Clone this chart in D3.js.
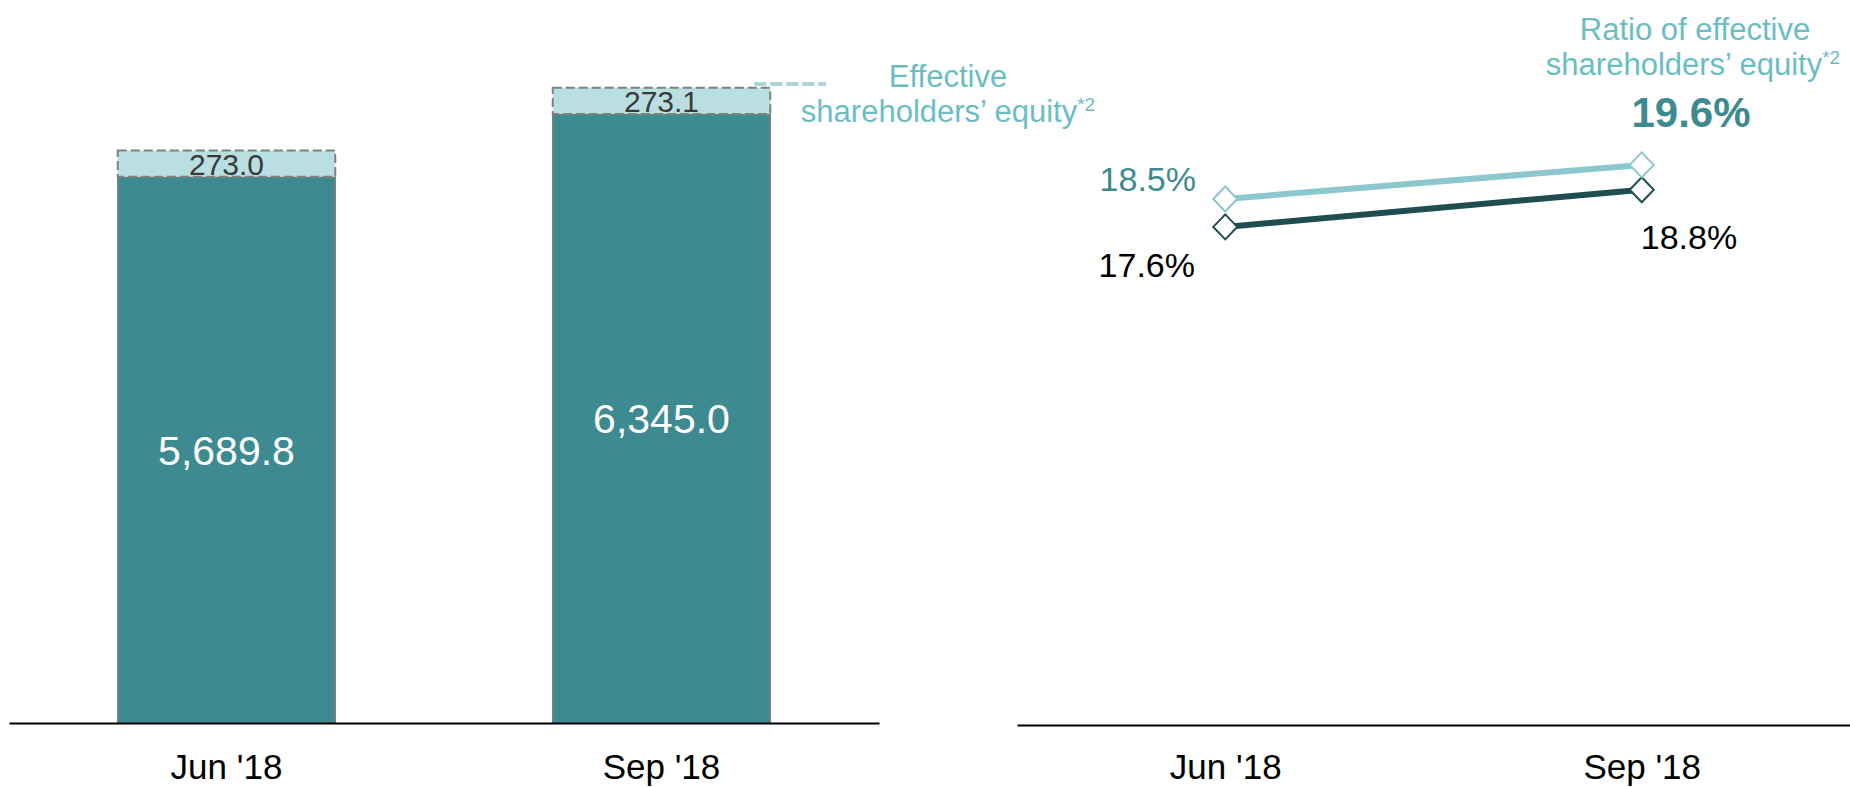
<!DOCTYPE html>
<html>
<head>
<meta charset="utf-8">
<script src="https://cdn.jsdelivr.net/npm/d3@7/dist/d3.min.js"></script>
<style>
  html, body { margin: 0; padding: 0; background: #fff; }
  svg { display: block; font-family: "Liberation Sans", Arial, sans-serif; }
</style>
</head>
<body>
<svg id="chart" width="1850" height="787"></svg>
<script>
// ---- data ----
const categories = ["Jun '18", "Sep '18"];
const shareholdersEquity = [5689.8, 6345.0];
const effectiveAddition = [273.0, 273.1];
const barLabels = ["5,689.8", "6,345.0"];
const addLabels = ["273.0", "273.1"];
const ratioEffective = [18.5, 19.6];
const ratioPlain = [17.6, 18.8];

const svg = d3.select("#chart");

// ---- colours ----
const teal = "#3d8a90";
const lightBand = "#b9dfe2";
const borderGray = "#808080";
const annoColor = "#6bbdc4";
const lightLine = "#8cc7cd";
const darkLine = "#1f4d50";

// ---- left panel: stacked bars ----
const xBar = d3.scaleBand().domain(categories).range([9, 879]).paddingInner(0.5).paddingOuter(0.25);
const yBar = d3.scaleLinear().domain([0, 7000]).range([723, 51]);

const gL = svg.append("g");

categories.forEach((c, i) => {
  const x0 = xBar(c), w = xBar.bandwidth();
  const base = shareholdersEquity[i];
  const top = base + effectiveAddition[i];
  gL.append("rect")
    .attr("x", x0).attr("y", yBar(base))
    .attr("width", w).attr("height", yBar(0) - yBar(base))
    .attr("fill", teal).attr("stroke", borderGray).attr("stroke-width", 1.5);
  gL.append("rect")
    .attr("x", x0).attr("y", yBar(top))
    .attr("width", w).attr("height", yBar(base) - yBar(top))
    .attr("fill", lightBand).attr("stroke", borderGray).attr("stroke-width", 2)
    .attr("stroke-dasharray", "9 4");
  const mid = (yBar(base) + yBar(0)) / 2;
  gL.append("text")
    .attr("x", x0 + w / 2).attr("y", mid + 15)
    .attr("text-anchor", "middle").attr("fill", "#ffffff")
    .attr("font-size", 41).text(barLabels[i]);
  gL.append("text")
    .attr("x", x0 + w / 2).attr("y", yBar(base) - 2)
    .attr("text-anchor", "middle").attr("fill", "#3a3a3a")
    .attr("font-size", 30).text(addLabels[i]);
});

// left axis
const axL = gL.append("g").attr("transform", `translate(0,${yBar(0)})`)
  .call(d3.axisBottom(xBar).tickSize(0).tickPadding(0));
axL.select(".domain").attr("stroke", "#000").attr("stroke-width", 2);
axL.selectAll(".tick text").attr("font-size", 35).attr("fill", "#000")
  .attr("font-family", "Liberation Sans, Arial, sans-serif")
  .attr("dy", 0).attr("y", 56);

// annotation for effective equity
const lastCat = categories[1];
gL.append("line")
  .attr("x1", xBar(lastCat) + xBar.bandwidth() - 16).attr("x2", 826)
  .attr("y1", 84).attr("y2", 84)
  .attr("stroke", "#a9d5da").attr("stroke-width", 4).attr("stroke-dasharray", "12 4");
gL.append("text").attr("text-anchor", "middle").attr("fill", annoColor).attr("font-size", 31)
  .attr("x", 948).attr("y", 87).text("Effective");
const l2 = gL.append("text").attr("text-anchor", "middle").attr("fill", annoColor).attr("font-size", 31)
  .attr("x", 948).attr("y", 122);
l2.append("tspan").text("shareholders’ equity");
l2.append("tspan").attr("font-size", 19).attr("dy", -11).text("*2");

// ---- right panel: ratio lines ----
const xPt = d3.scalePoint().domain(categories).range([1017, 1850]).padding(0.5);
const yR = d3.scaleLinear().domain([1.5, 21.5]).range([726, 106]);

const gR = svg.append("g");
const axR = gR.append("g").attr("transform", "translate(0,725)")
  .call(d3.axisBottom(xPt).tickSize(0).tickPadding(0));
axR.select(".domain").attr("stroke", "#000").attr("stroke-width", 2);
axR.selectAll(".tick text").attr("font-size", 35).attr("fill", "#000")
  .attr("font-family", "Liberation Sans, Arial, sans-serif")
  .attr("dy", 0).attr("y", 54);

const lineGen = d3.line().x((d, i) => xPt(categories[i])).y(d => yR(d));
const dW = 12, dH = 12.5;
const diamondPath = `M0,${-dH}L${dW},0L0,${dH}L${-dW},0Z`;

function drawSeries(values, color) {
  gR.append("path").datum(values).attr("d", lineGen)
    .attr("fill", "none").attr("stroke", color).attr("stroke-width", 6);
  gR.selectAll(null).data(values).enter().append("path")
    .attr("d", diamondPath)
    .attr("transform", (d, i) => `translate(${xPt(categories[i])},${yR(d)})`)
    .attr("fill", "#fff").attr("stroke", color).attr("stroke-width", 2);
}
drawSeries(ratioPlain, darkLine);
drawSeries(ratioEffective, lightLine);

// point labels
gR.append("text").attr("x", 1196).attr("y", yR(ratioEffective[0]) - 8)
  .attr("text-anchor", "end").attr("fill", teal).attr("font-size", 34)
  .text(ratioEffective[0].toFixed(1) + "%");
gR.append("text").attr("x", 1195).attr("y", yR(ratioPlain[0]) + 50)
  .attr("text-anchor", "end").attr("fill", "#000").attr("font-size", 34)
  .text(ratioPlain[0].toFixed(1) + "%");
gR.append("text").attr("x", 1689).attr("y", yR(ratioPlain[1]) + 59)
  .attr("text-anchor", "middle").attr("fill", "#000").attr("font-size", 34)
  .text(ratioPlain[1].toFixed(1) + "%");

// ratio annotation
gR.append("text").attr("text-anchor", "middle").attr("fill", annoColor).attr("font-size", 31)
  .attr("x", 1695).attr("y", 40).text("Ratio of effective");
const annR2 = gR.append("text").attr("text-anchor", "middle").attr("fill", annoColor).attr("font-size", 31)
  .attr("x", 1693).attr("y", 75);
annR2.append("tspan").text("shareholders’ equity");
annR2.append("tspan").attr("font-size", 19).attr("dy", -11).text("*2");
gR.append("text").attr("text-anchor", "middle").attr("fill", teal).attr("font-size", 42)
  .attr("font-weight", "bold").attr("x", 1691).attr("y", 127)
  .text(ratioEffective[1].toFixed(1) + "%");
</script>
</body>
</html>
